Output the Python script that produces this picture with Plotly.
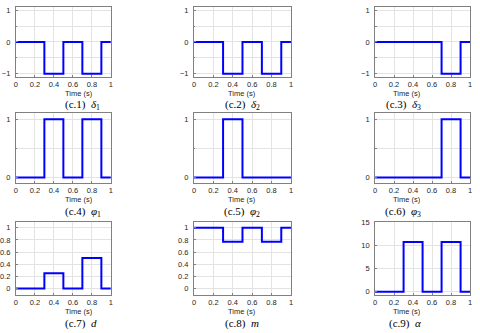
import plotly.graph_objects as go

# step signals: value holds from t[i] to t[i+1]
t = [0, 0.3, 0.5, 0.7, 0.9, 1.0]
delta1 = [0, -1, 0, -1, 0, 0]
delta2 = [0, -1, 0, -1, 0, 0]
delta3 = [0, 0, 0, -1, 0, 0]
phi1 = [0, 1, 0, 1, 0, 0]
phi2 = [0, 1, 0, 0, 0, 0]
phi3 = [0, 0, 0, 1, 0, 0]
d = [0, 0.25, 0, 0.5, 0, 0]
m = [1, 0.77, 1, 0.77, 1, 1]
alpha = [0, 10.8, 0, 10.8, 0, 0]

captions = [
    "(c.1)  <i>δ</i><sub>1</sub>", "(c.2)  <i>δ</i><sub>2</sub>", "(c.3)  <i>δ</i><sub>3</sub>",
    "(c.4)  <i>φ</i><sub>1</sub>", "(c.5)  <i>φ</i><sub>2</sub>", "(c.6)  <i>φ</i><sub>3</sub>",
    "(c.7)  <i>d</i>", "(c.8)  <i>m</i>", "(c.9)  <i>α</i>",
]
series = [delta1, delta2, delta3, phi1, phi2, phi3, d, m, alpha]

W, H = 480, 333
cols_px = [(13, 109), (193, 291), (376, 472)]
rows_px = [(4, 75), (112, 183), (222, 296)]

tick_frac = [0, 0.2, 0.4, 0.6, 0.8, 1]
lab_frac = ["0", "0.2", "0.4", "0.6", "0.8", "1"]
half_minor = dict(tickvals=[-0.5, 0.5], showgrid=True, gridcolor="#e3e3e3",
                  ticks="inside", ticklen=1.5, tickcolor="#808080")
yaxes_cfg = [
    dict(range=[-1.1, 1.1], tickvals=[-1, 0, 1], minor=half_minor),
    dict(range=[-1.1, 1.1], tickvals=[-1, 0, 1], minor=half_minor),
    dict(range=[-1.1, 1.1], tickvals=[-1, 0, 1], minor=half_minor),
    dict(range=[-0.1, 1.1], tickvals=[0, 1], minor=half_minor),
    dict(range=[-0.1, 1.1], tickvals=[0, 1], minor=half_minor),
    dict(range=[-0.1, 1.1], tickvals=[0, 1], minor=half_minor),
    dict(range=[-0.1, 1.1], tickvals=tick_frac, ticktext=lab_frac),
    dict(range=[-0.1, 1.1], tickvals=tick_frac, ticktext=lab_frac),
    dict(range=[-0.6, 15.2], tickvals=[0, 5, 10, 15]),
]

tick_font = dict(family="Liberation Sans, Arial, sans-serif", size=7.5, color="#262626")
axis_common = dict(
    showline=True, linecolor="#808080", linewidth=1, mirror=True,
    showgrid=True, gridcolor="#e3e3e3", gridwidth=1,
    ticks="inside", ticklen=2, tickcolor="#808080",
    zeroline=False, tickfont=tick_font, fixedrange=True,
)

fig = go.Figure()
layout = {}
annotations = []
for i, (y, cap, ycfg) in enumerate(zip(series, captions, yaxes_cfg)):
    r, c = divmod(i, 3)
    x0, x1 = cols_px[c]
    y0, y1 = rows_px[r]
    n = "" if i == 0 else str(i + 1)
    fig.add_trace(go.Scatter(
        x=t, y=y, mode="lines", line=dict(color="#0000ff", width=2, shape="hv"),
        xaxis="x" + n, yaxis="y" + n, showlegend=False, hoverinfo="skip",
    ))
    layout["xaxis" + n] = dict(
        axis_common, domain=[x0 / W, x1 / W], range=[0, 1], anchor="y" + n,
        tickvals=tick_frac, ticktext=lab_frac, ticklabelstandoff=0,
    )
    layout["yaxis" + n] = dict(axis_common, domain=[1 - y1 / H, 1 - y0 / H], anchor="x" + n,
                               ticklabelstandoff=3, **ycfg)
    xc = (x0 + x1) / 2 / W
    annotations.append(dict(
        text="Time (s)", x=xc, y=1 - (y1 + 17) / H, xref="paper", yref="paper",
        yanchor="middle", showarrow=False,
        font=dict(family="Liberation Sans, Arial, sans-serif", size=7.5, color="#262626"),
    ))
    annotations.append(dict(
        text=cap, x=xc, y=1 - (y1 + 29) / H, xref="paper", yref="paper",
        yanchor="middle", showarrow=False,
        font=dict(family="Liberation Serif, Times New Roman, serif", size=11, color="#000000"),
    ))

fig.update_layout(
    **layout,
    annotations=annotations,
    width=W, height=H,
    margin=dict(l=0, r=0, t=0, b=0),
    paper_bgcolor="white", plot_bgcolor="white",
)
fig.write_html("out.html", config={"displayModeBar": False},
               post_script="document.body.style.margin='0';")
